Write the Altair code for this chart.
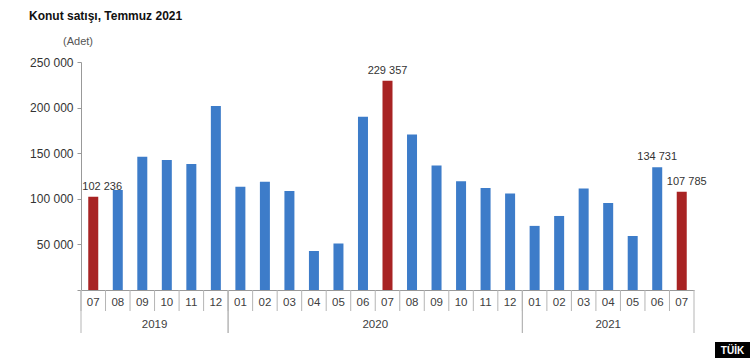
import altair as alt
import pandas as pd

# ---- data ----
years = ["2019"] * 6 + ["2020"] * 12 + ["2021"] * 7
months = ["07", "08", "09", "10", "11", "12",
          "01", "02", "03", "04", "05", "06", "07", "08", "09", "10", "11", "12",
          "01", "02", "03", "04", "05", "06", "07"]
sales = [102236, 109554, 146158, 142612, 138067, 201685,
         113146, 118753, 108670, 42783, 50936, 190012, 229357, 170615, 136420, 119262, 111905, 105846,
         70294, 81176, 111314, 95454, 59220, 134731, 107785]
labelled = [0, 12, 23, 24]
y_ticks = [0, 50000, 100000, 150000, 200000, 250000]

title_text = "Konut satışı, Temmuz 2021"
unit_text = "(Adet)"
logo_text = "TÜİK"

BLUE = "#3d7cc9"
RED = "#a82323"
TXT = "#404040"
GRID = "#b5b5b5"
FONT = "Liberation Sans"

df = pd.DataFrame({"idx": list(range(len(sales))), "year": years, "month": months, "sales": sales})
df["show"] = df["idx"].isin(labelled)

xs = alt.Scale(domain=[-0.5, len(sales) - 0.5], nice=False, zero=False, padding=0)
ys = alt.Scale(domain=[0, 250000], nice=False)

base = alt.Chart(df)

bars = base.mark_bar(size=10).encode(
    x=alt.X("idx:Q", scale=xs,
            axis=alt.Axis(title=None, labels=False, ticks=False, grid=False,
                          domainColor="#999999")),
    y=alt.Y("sales:Q", scale=ys,
            axis=alt.Axis(title=None, values=y_ticks, grid=False,
                          labelExpr="datum.value == 0 ? '' : replace(format(datum.value, ','), ',', ' ')",
                          labelFont=FONT, labelFontSize=12, labelColor="#333333",
                          tickSize=4, tickColor="#999999", domainColor="#999999",
                          labelPadding=4)),
    color=alt.condition(alt.datum.month == "07", alt.value(RED), alt.value(BLUE)),
)

lab_base = base.transform_filter(alt.datum.show).transform_calculate(
    lab="replace(format(datum.sales, ','), ',', ' ')"
)
val_first = lab_base.transform_filter(alt.datum.idx == labelled[0]).mark_text(
    align="left", baseline="bottom", dx=-11, dy=-5, font=FONT, fontSize=11, color="#333333"
).encode(x=alt.X("idx:Q", scale=xs), y=alt.Y("sales:Q", scale=ys), text="lab:N")
val_mid = lab_base.transform_filter(
    (alt.datum.idx != labelled[0]) & (alt.datum.idx != labelled[-1])
).mark_text(
    align="center", baseline="bottom", dy=-5, font=FONT, fontSize=11, color="#333333"
).encode(x=alt.X("idx:Q", scale=xs), y=alt.Y("sales:Q", scale=ys), text="lab:N")
val_last = lab_base.transform_filter(alt.datum.idx == labelled[-1]).mark_text(
    align="center", baseline="bottom", dx=5, dy=-5, font=FONT, fontSize=11, color="#333333"
).encode(x=alt.X("idx:Q", scale=xs), y=alt.Y("sales:Q", scale=ys), text="lab:N")

# month separators
month_sep = base.transform_calculate(sep="datum.idx - 0.5").mark_rule(
    color=GRID, strokeWidth=1
).encode(x=alt.X("sep:Q", scale=xs), y=alt.value(228), y2=alt.value(249))

year_agg = base.transform_aggregate(lo="min(idx)", hi="max(idx)", mid="mean(idx)", groupby=["year"])
year_sep_lo = year_agg.transform_calculate(edge="datum.lo - 0.5").mark_rule(
    color=GRID, strokeWidth=1
).encode(x=alt.X("edge:Q", scale=xs), y=alt.value(228), y2=alt.value(271))
year_sep_hi = year_agg.transform_calculate(edge="datum.hi + 0.5").mark_rule(
    color=GRID, strokeWidth=1
).encode(x=alt.X("edge:Q", scale=xs), y=alt.value(228), y2=alt.value(271))

month_lab = base.mark_text(
    baseline="middle", font=FONT, fontSize=11.5, color=TXT
).encode(x=alt.X("idx:Q", scale=xs), y=alt.value(241), text="month:N")

year_lab = year_agg.mark_text(
    baseline="middle", font=FONT, fontSize=11.5, color=TXT
).encode(x=alt.X("mid:Q", scale=xs), y=alt.value(263), text="year:N")

title = alt.Chart(pd.DataFrame({"t": [title_text]})).mark_text(
    align="left", baseline="middle", font=FONT, fontSize=12, fontWeight="bold", color="#111111"
).encode(x=alt.value(-52), y=alt.value(-46), text="t:N")

unit = alt.Chart(pd.DataFrame({"t": [unit_text]})).mark_text(
    align="center", baseline="middle", font=FONT, fontSize=11, color="#555555"
).encode(x=alt.value(-3), y=alt.value(-20), text="t:N")

logo_box = alt.Chart(pd.DataFrame({"t": [logo_text]})).mark_rect(color="#000000").encode(
    x=alt.value(634), x2=alt.value(669), y=alt.value(280), y2=alt.value(296)
)
logo = alt.Chart(pd.DataFrame({"t": [logo_text]})).mark_text(
    align="center", baseline="middle", font=FONT, fontSize=10, fontWeight="bold", color="#ffffff"
).encode(x=alt.value(651.5), y=alt.value(288.5), text="t:N")

chart = alt.layer(
    bars, month_sep, year_sep_lo, year_sep_hi, month_lab, year_lab,
    val_first, val_mid, val_last, title, unit, logo_box, logo
).properties(
    width=613, height=228,
    padding={"left": 81, "top": 62, "right": 56, "bottom": 68},
    autosize=alt.AutoSizeParams(type="none"),
    background="#ffffff",
).configure_view(stroke=None)

chart.save("out.html", embed_options={"renderer": "svg", "actions": False})
